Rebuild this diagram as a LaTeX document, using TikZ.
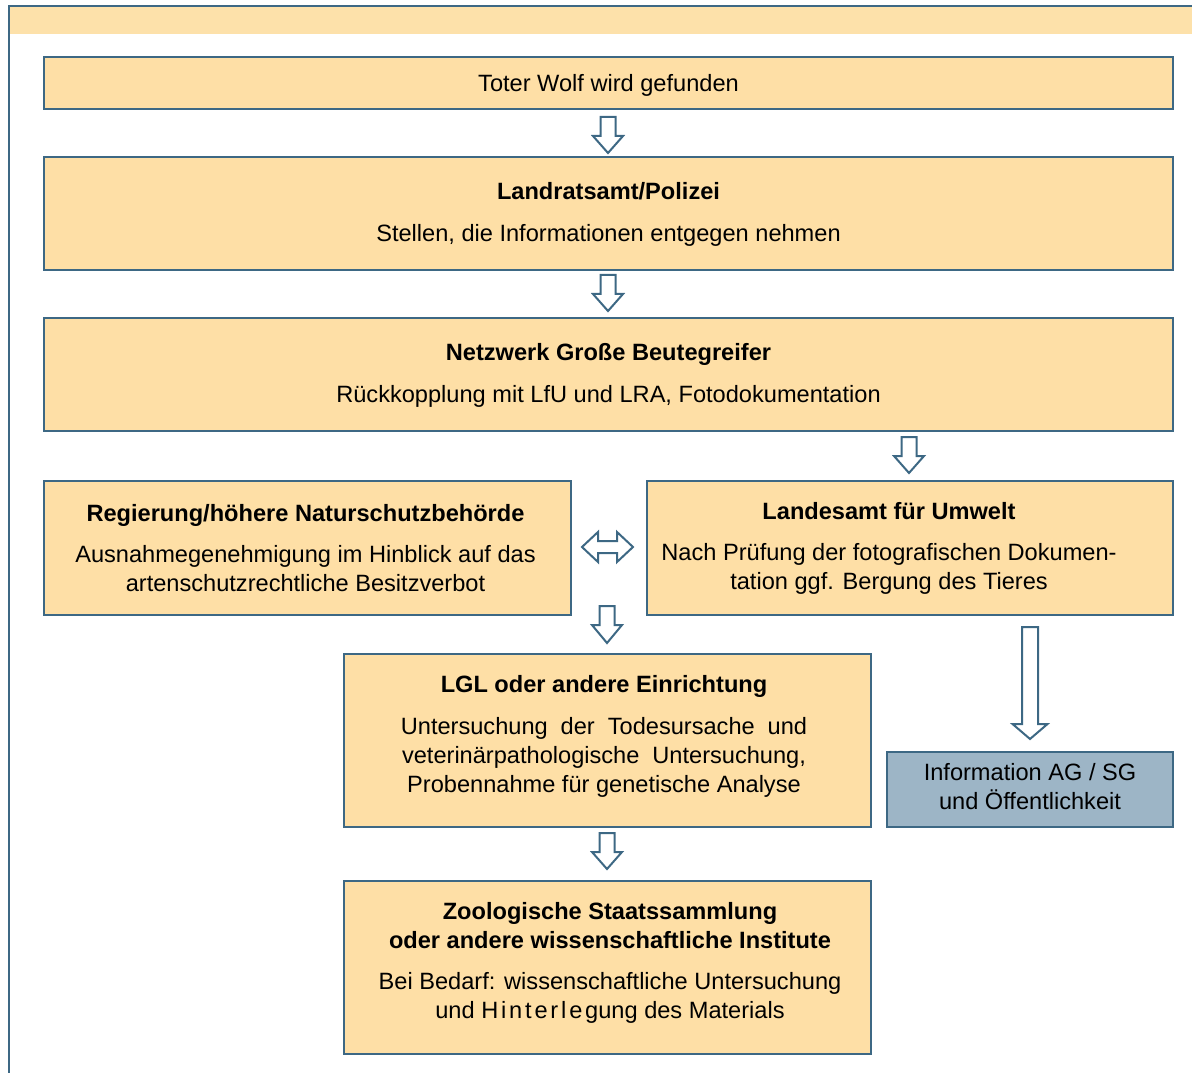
\documentclass[tikz,border=0pt]{standalone}
\usepackage{fontspec}
\setmainfont{Liberation Sans}
\usetikzlibrary{calc}
\definecolor{peach}{HTML}{FEDFA6}
\definecolor{bandc}{HTML}{FDE1AA}
\definecolor{edgec}{HTML}{3D6884}
\definecolor{infoc}{HTML}{9DB5C6}
\tikzset{
  box/.style={draw=edgec, line width=1.6pt, fill=peach, inner sep=0pt},
  infobox/.style={box, fill=infoc},
  txt/.style={align=center, inner sep=0pt, font=\fontsize{17.7pt}{21.75pt}\selectfont},
  blockarrow/.style={draw=edgec, line width=1.5pt, fill=white, line join=miter},
}
\newcommand{\gap}{\\[9.5pt]}
\newcommand{\wsp}{\hspace{0.55em}}
\begin{document}
\begin{tikzpicture}[x=0.75pt,y=-0.75pt]
\useasboundingbox (0,0) rectangle (1192,1073);
% frame
\fill[bandc] (10,7) rectangle (1192,34);
\draw[edgec, line width=1.5pt] (9,1073) -- (9,6) -- (1192,6);
% boxes
\node[box, minimum width=846.75pt, minimum height=39pt] (b1) at (608.5,83) {};
\node[box, minimum width=846.75pt, minimum height=84.75pt] (b2) at (608.5,213.5) {};
\node[box, minimum width=846.75pt, minimum height=84.75pt] (b3) at (608.5,374.5) {};
\node[box, minimum width=395.25pt, minimum height=100.5pt] (b4) at (307.5,548) {};
\node[box, minimum width=394.5pt, minimum height=100.5pt] (b5) at (910,548) {};
\node[box, minimum width=395.25pt, minimum height=129.75pt] (b6) at (607.5,740.5) {};
\node[infobox, minimum width=214.5pt, minimum height=56.25pt] (b7) at (1030,789.5) {};
\node[box, minimum width=395.25pt, minimum height=129.75pt] (b8) at (607.5,967.5) {};
% texts
\node[txt] (t1) at ([yshift=-1.5pt]b1.center) {Toter Wolf wird gefunden};
\node[txt] (t2) at ([yshift=-0.5pt]b2.center) {\textbf{Landratsamt/Polizei}\gap Stellen, die Informationen entgegen nehmen};
\node[txt] (t3) at ([yshift=-0.5pt]b3.center) {\textbf{Netzwerk Große Beutegreifer}\gap Rückkopplung mit LfU und LRA, Fotodokumentation};
\node[txt] (t4) at ([xshift=-1.5pt,yshift=0pt]b4.center) {\textbf{Regierung/höhere Naturschutzbehörde}\gap Ausnahmegenehmigung im Hinblick auf das\\ artenschutzrechtliche Besitzverbot};
\node[txt] (t5) at (889,548.5) {\textbf{Landesamt für Umwelt}\gap Nach Prüfung der fotografischen Dokumen-\\ tation ggf. Bergung des Tieres};
\node[txt] (t6) at (604,736.5) {\textbf{LGL oder andere Einrichtung}\gap Untersuchung\wsp der\wsp Todesursache\wsp und\\ veterinärpathologische\wsp Untersuchung,\\ Probennahme für genetische Analyse};
\node[txt] (t7) at ([yshift=2pt]b7.center) {Information AG / SG\\ und Öffentlichkeit};
\node[txt] (t8) at (610,963) {\textbf{Zoologische Staatssammlung}\\ \textbf{oder andere wissenschaftliche Institute}\gap Bei Bedarf: wissenschaftliche Untersuchung\\ und {\addfontfeature{LetterSpace=12}Hinterleg}ung des Materials};
% block arrows
\newcommand{\dnarrow}[6]{% x, top, headstart, tip, shaft half, head half
  \draw[blockarrow] (#1-#5,#2) -- (#1+#5,#2) -- (#1+#5,#3) -- (#1+#6,#3) -- (#1,#4) -- (#1-#6,#3) -- (#1-#5,#3) -- cycle;}
\dnarrow{608}{117}{136}{153}{7.5}{15}
\dnarrow{608}{275}{294}{311}{7.5}{15}
\dnarrow{909}{437}{456}{473}{7.5}{15}
\dnarrow{607}{606}{625}{643}{7.5}{15}
\dnarrow{607}{833}{852}{869}{7.5}{15}
\dnarrow{1030}{627}{724}{739}{8}{17.5}
% double arrow
\draw[blockarrow] (582,547) -- (598,532) -- (598,541) -- (617,541) -- (617,532) -- (633,547) -- (617,562) -- (617,553) -- (598,553) -- (598,562) -- cycle;
\end{tikzpicture}
\end{document}
